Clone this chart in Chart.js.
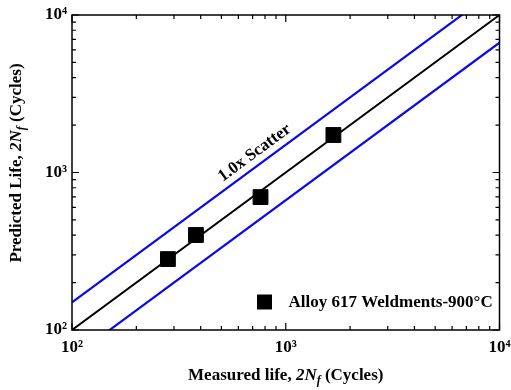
<!DOCTYPE html>
<html><head><meta charset="utf-8">
<script src="https://cdn.jsdelivr.net/npm/chart.js@4/dist/chart.umd.min.js"></script>
<style>html,body{margin:0;padding:0;background:#fff}#c{display:block}</style>
</head><body>
<canvas id="c" width="511" height="390"></canvas>
<script>
const measured = [281, 380, 762, 1671];
const predicted = [282, 401, 698, 1730];
const lineX = [100, 10000];
const scatterFactor = 1.5;
const majorTicks = [100, 1000, 10000];
const tickExponents = ['\u00B2', '\u00B3', '\u2074'];
const minorTicks = [200, 300, 400, 500, 600, 700, 800, 900, 2000, 3000, 4000, 5000, 6000, 7000, 8000, 9000];
const seriesName = 'Alloy 617 Weldments-900\u00B0C';
const scatterLabel = '1.0x Scatter';
const scatterLabelAt = [715, 1331];

const SERIF = '"Liberation Serif", "Times New Roman", serif';

const pts = measured.map((x, i) => ({x: x, y: predicted[i]}));
const unity = lineX.map(x => ({x: x, y: x}));
const upper = lineX.map(x => ({x: x, y: x * scatterFactor}));
const lower = lineX.map(x => ({x: x, y: x / scatterFactor}));

function tickLabel(v) {
  const i = majorTicks.indexOf(v);
  return i >= 0 ? '10' + tickExponents[i] : '';
}

function drawRich(ctx, parts, cx, cy) {
  let total = 0;
  parts.forEach(p => { ctx.font = p[1]; total += ctx.measureText(p[0]).width; });
  let x = cx - total / 2;
  parts.forEach(p => {
    ctx.font = p[1];
    ctx.fillText(p[0], x, cy + (p[2] || 0));
    x += ctx.measureText(p[0]).width;
  });
}

const decor = {
  id: 'decor',
  afterDatasetsDraw(chart) {
    const ctx = chart.ctx;
    const a = chart.chartArea;
    const xs = chart.scales.x, ys = chart.scales.y;
    ctx.save();
    ctx.strokeStyle = '#000';
    ctx.lineWidth = 1.5;
    ctx.strokeRect(a.left, a.top, a.right - a.left, a.bottom - a.top);
    ctx.lineWidth = 1.2;
    ctx.beginPath();
    const tick = (vals, len) => {
      vals.forEach(v => {
        const px = xs.getPixelForValue(v);
        ctx.moveTo(px, a.bottom); ctx.lineTo(px, a.bottom - len);
        ctx.moveTo(px, a.top); ctx.lineTo(px, a.top + len);
        const py = ys.getPixelForValue(v);
        ctx.moveTo(a.left, py); ctx.lineTo(a.left + len, py);
        ctx.moveTo(a.right, py); ctx.lineTo(a.right - len, py);
      });
    };
    tick(majorTicks, 7);
    tick(minorTicks, 4);
    ctx.stroke();

    ctx.fillStyle = '#000';
    ctx.textBaseline = 'middle';
    const b = 'bold 17px ' + SERIF, bi = 'italic bold 17px ' + SERIF, bs = 'italic bold 12px ' + SERIF;
    drawRich(ctx, [['Measured life, ', b], ['2N', bi], ['f', bs, 5], [' (Cycles)', b]], (a.left + a.right) / 2, 376);
    ctx.save();
    ctx.translate(17, 163);
    ctx.rotate(-Math.PI / 2);
    drawRich(ctx, [['Predicted Life, ', b], ['2N', bi], ['f', bs, 5], [' (Cycles)', b]], 0, 0);
    ctx.restore();

    const x0 = xs.getPixelForValue(100), y0 = ys.getPixelForValue(100);
    const x1 = xs.getPixelForValue(10000), y1 = ys.getPixelForValue(10000);
    const ang = Math.atan2(y1 - y0, x1 - x0);
    ctx.save();
    ctx.translate(xs.getPixelForValue(scatterLabelAt[0]), ys.getPixelForValue(scatterLabelAt[1]));
    ctx.rotate(ang);
    ctx.textAlign = 'center';
    ctx.font = 'bold 17px ' + SERIF;
    ctx.fillText(scatterLabel, 0, 0);
    ctx.restore();

    const lx = a.right - 235, ly = a.bottom - 28;
    ctx.fillRect(lx - 7.5, ly - 7.5, 15, 15);
    ctx.textAlign = 'left';
    ctx.font = 'bold 17px ' + SERIF;
    ctx.fillText(seriesName, lx + 24, ly + 1);
    ctx.restore();
  }
};

new Chart(document.getElementById('c'), {
  type: 'scatter',
  data: {
    datasets: [
      {label: seriesName, data: pts, pointStyle: 'rect', pointRadius: 10.5, pointHoverRadius: 10.5,
       backgroundColor: '#000', borderColor: '#000', borderWidth: 1, showLine: false},
      {label: 'unity', data: unity, showLine: true, pointRadius: 0, borderColor: '#000', borderWidth: 2},
      {label: 'upper', data: upper, showLine: true, pointRadius: 0, borderColor: '#0a0ae6', borderWidth: 2.2},
      {label: 'lower', data: lower, showLine: true, pointRadius: 0, borderColor: '#0a0ae6', borderWidth: 2.2}
    ]
  },
  options: {
    responsive: false,
    animation: false,
    devicePixelRatio: 1,
    layout: {padding: {left: 0, right: 10, top: 15, bottom: 0}},
    plugins: {legend: {display: false}, tooltip: {enabled: false}},
    scales: {
      x: {
        type: 'logarithmic', min: 100, max: 10000,
        grid: {display: false, drawTicks: false}, border: {display: false},
        ticks: {font: {family: SERIF, weight: 'bold', size: 17}, color: '#000', padding: 7,
                maxRotation: 0, autoSkip: false, callback: v => tickLabel(v)},
        afterBuildTicks: s => { s.ticks = majorTicks.map(v => ({value: v})); },
        afterFit: s => { s.height = 60; s.paddingLeft = 0; s.paddingRight = 0; }
      },
      y: {
        type: 'logarithmic', min: 100, max: 10000,
        grid: {display: false, drawTicks: false}, border: {display: false},
        ticks: {font: {family: SERIF, weight: 'bold', size: 17}, color: '#000', padding: 5,
                autoSkip: false, callback: v => tickLabel(v)},
        afterBuildTicks: s => { s.ticks = majorTicks.map(v => ({value: v})); },
        afterFit: s => { s.width = 72; s.paddingTop = 0; s.paddingBottom = 0; }
      }
    }
  },
  plugins: [decor]
});
</script>
</body></html>
